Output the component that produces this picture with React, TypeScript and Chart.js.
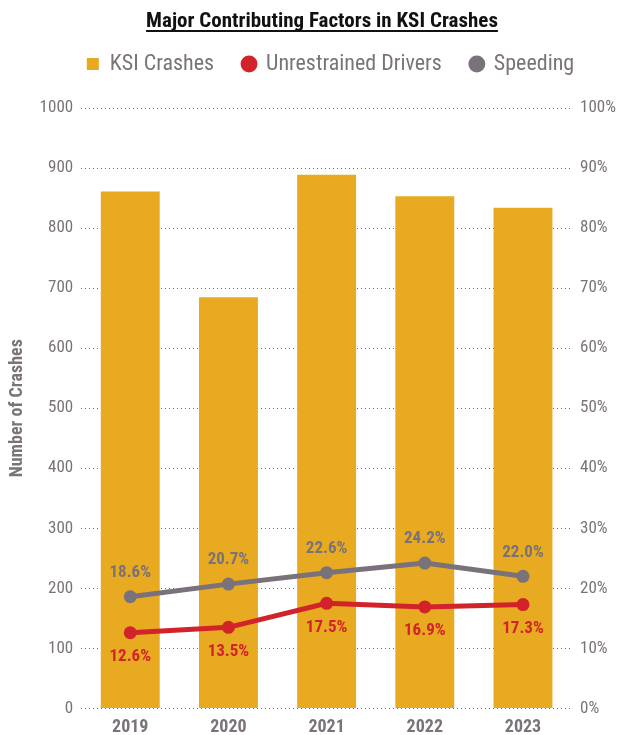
import React, { useEffect, useRef } from "react";
import { Chart, registerables } from "chart.js";

Chart.register(...registerables);

const years = ["2019", "2020", "2021", "2022", "2023"];
const ksiCrashes = [861, 685, 889, 853, 834];
const unrestrainedPct = [12.6, 13.5, 17.5, 16.9, 17.3];
const speedingPct = [18.6, 20.7, 22.6, 24.2, 22.0];
const titleText = "Major Contributing Factors in KSI Crashes";
const yTitle = "Number of Crashes";

const FONT = "'Liberation Sans Narrow', 'Roboto Condensed', 'DejaVu Sans Condensed', sans-serif";
const GRAY = "#7a7379";
const YELLOW = "#E8AA20";
const RED = "#D2232A";
const LINEGRAY = "#7a727b";

const titlePlugin = {
  id: "underlinedTitle",
  afterDraw(chart: any) {
    const ctx = chart.ctx;
    ctx.save();
    ctx.font = `bold 21px ${FONT}`;
    ctx.fillStyle = "#111";
    ctx.textAlign = "center";
    ctx.textBaseline = "alphabetic";
    const x = 322;
    const y = 27;
    ctx.fillText(titleText, x, y);
    const w = ctx.measureText(titleText).width;
    ctx.strokeStyle = "#111";
    ctx.lineWidth = 1.8;
    ctx.beginPath();
    ctx.moveTo(x - w / 2, y + 4);
    ctx.lineTo(x + w / 2, y + 4);
    ctx.stroke();
    ctx.restore();
  },
};

const legendSpacer = {
  id: "legendSpacer",
  beforeInit(chart: any) {
    const legend = chart.legend;
    if (!legend) return;
    const origFit = legend.fit;
    legend.fit = function () {
      origFit.bind(legend)();
      this.height += 23;
    };
    const origDraw = legend.draw;
    legend.draw = function (...args: any[]) {
      const ctx = chart.ctx;
      ctx.save();
      ctx.translate(15, 0);
      origDraw.apply(legend, args);
      ctx.restore();
    };
  },
};

const labelPlugin = {
  id: "pointLabels",
  afterDatasetsDraw(chart: any) {
    const ctx = chart.ctx;
    ctx.save();
    ctx.font = `bold 17px ${FONT}`;
    ctx.textAlign = "center";
    ctx.textBaseline = "middle";
    chart.data.datasets.forEach((ds: any, i: number) => {
      if (ds.type !== "line") return;
      const meta = chart.getDatasetMeta(i);
      const above = ds.labelPos === "above";
      meta.data.forEach((pt: any, j: number) => {
        const v = ds.data[j];
        ctx.fillStyle = ds.borderColor;
        ctx.fillText(v.toFixed(1) + "%", pt.x, pt.y + (above ? -24 : 24));
      });
    });
    ctx.restore();
  },
};

export default function App() {
  const ref = useRef<HTMLCanvasElement>(null);
  useEffect(() => {
    if (!ref.current) return;
    const chart = new Chart(ref.current, {
      type: "bar",
      data: {
        labels: years,
        datasets: [
          {
            type: "bar",
            label: "KSI Crashes",
            data: ksiCrashes,
            backgroundColor: YELLOW,
            borderWidth: 0,
            yAxisID: "y",
            categoryPercentage: 1,
            barPercentage: 0.6,
            order: 2,
            pointStyle: "rect",
          } as any,
          {
            type: "line",
            label: "Unrestrained Drivers",
            data: unrestrainedPct,
            borderColor: RED,
            backgroundColor: RED,
            borderWidth: 5,
            pointRadius: 6.5,
            pointBackgroundColor: RED,
            pointBorderWidth: 0,
            yAxisID: "y1",
            order: 1,
            labelPos: "below",
            pointStyle: "circle",
          } as any,
          {
            type: "line",
            label: "Speeding",
            data: speedingPct,
            borderColor: LINEGRAY,
            backgroundColor: LINEGRAY,
            borderWidth: 5,
            pointRadius: 6.5,
            pointBackgroundColor: LINEGRAY,
            pointBorderWidth: 0,
            yAxisID: "y1",
            order: 0,
            labelPos: "above",
            pointStyle: "circle",
          } as any,
        ],
      },
      options: {
        animation: false,
        responsive: true,
        maintainAspectRatio: false,
        layout: { padding: { top: 24, left: 7, right: -6, bottom: -3 } },
        plugins: {
          legend: {
            position: "top",
            labels: {
              usePointStyle: true,
              boxWidth: 12,
              boxHeight: 12,
              padding: 29,
              color: GRAY,
              font: { family: FONT, size: 22 },
              sort: (a: any, b: any) => a.datasetIndex - b.datasetIndex,
            },
          },
          tooltip: { enabled: false },
          title: { display: false },
        },
        scales: {
          x: {
            grid: { display: false },
            border: { display: false },
            ticks: {
              color: GRAY,
              font: { family: FONT, size: 18, weight: "bold" },
              padding: 0,
            },
          },
          y: {
            position: "left",
            min: 0,
            max: 1000,
            ticks: {
              stepSize: 100,
              color: GRAY,
              font: { family: FONT, size: 17 },
              padding: 8,
              callback: (v: any) => String(v),
            },
            grid: {
              color: "#6a6a6a",
              lineWidth: 1,
              drawTicks: false,
            },
            border: { display: false, dash: [1, 3] },
            title: {
              display: true,
              text: yTitle,
              color: GRAY,
              font: { family: FONT, size: 18, weight: "bold" },
              padding: { top: 0, bottom: 3 },
            },
          },
          y1: {
            position: "right",
            min: 0,
            max: 100,
            ticks: {
              stepSize: 10,
              color: GRAY,
              font: { family: FONT, size: 17 },
              padding: 8,
              callback: (v: any) => v + "%",
            },
            grid: { display: false, drawTicks: false },
            border: { display: false },
          },
        },
      } as any,
      plugins: [titlePlugin, labelPlugin, legendSpacer],
    });
    return () => chart.destroy();
  }, []);
  return (
    <div style={{ position: "fixed", left: 0, top: 0, width: 618, height: 735 }}>
      <canvas ref={ref} />
    </div>
  );
}
